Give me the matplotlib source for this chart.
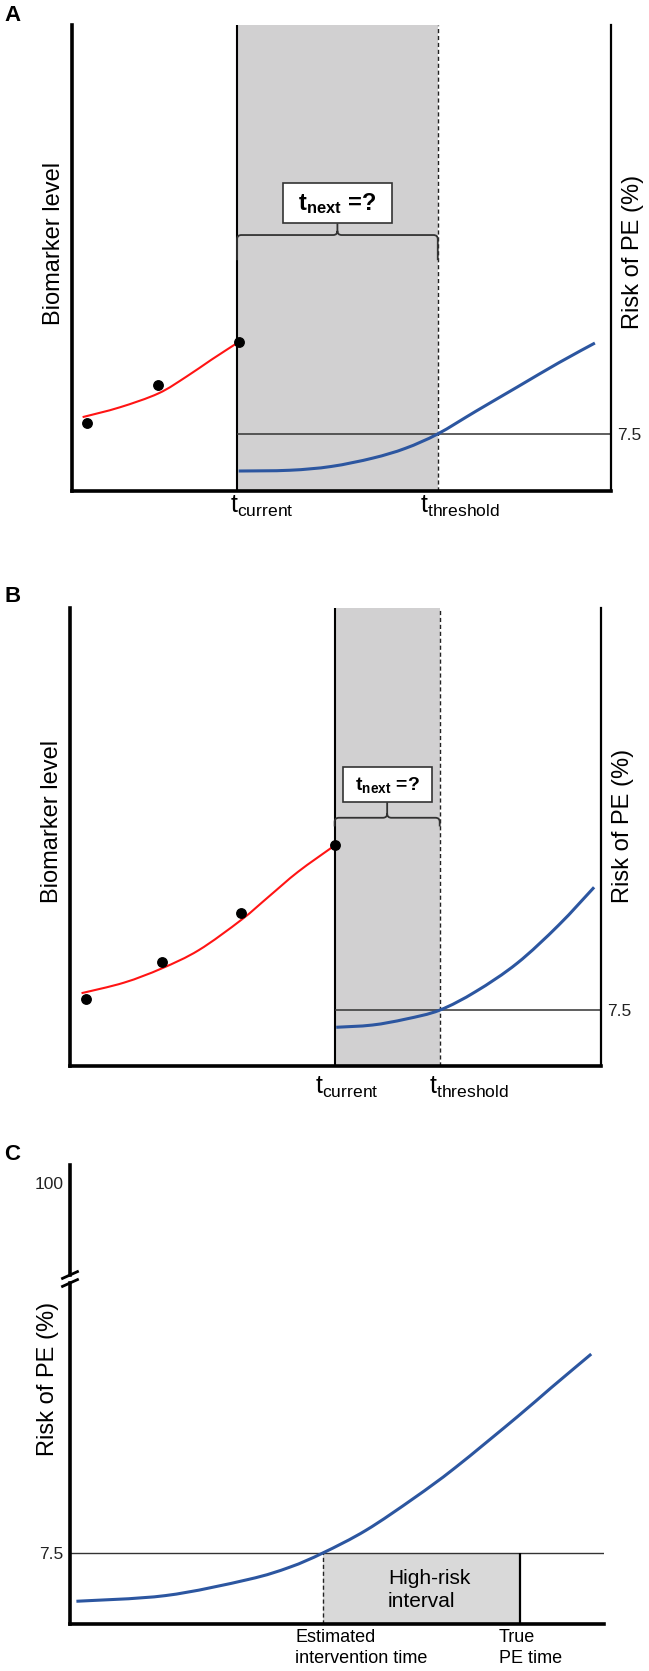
import numpy as np
import matplotlib
matplotlib.use('Agg')
import matplotlib.pyplot as plt
from matplotlib.path import Path
from matplotlib.patches import PathPatch, Rectangle

plt.rcParams['font.family'] = ['Liberation Sans', 'DejaVu Sans']
plt.rcParams['mathtext.fontset'] = 'custom'
plt.rcParams['mathtext.rm'] = 'Liberation Sans'
plt.rcParams['mathtext.it'] = 'Liberation Sans:italic'
plt.rcParams['mathtext.bf'] = 'Liberation Sans:bold'

# schematic values (time and level in % of axis, risk in %)
threshold = 7.5

# panel A
a_dots_t = [2.8, 16.0, 30.9]
a_dots_lvl = [14.6, 22.7, 32.0]
a_fit_t = [1.9, 8.8, 16.0, 21.2, 25.8, 30.6]
a_fit_lvl = [15.8, 17.9, 20.9, 24.5, 28.1, 31.7]
a_risk_t = [30.9, 40.4, 48.1, 55.8, 61.9, 67.9, 75.0, 82.7, 90.4, 97.1]
a_risk = [2.6, 2.7, 3.2, 4.3, 5.6, 7.5, 10.5, 13.7, 16.9, 19.5]
a_t_current, a_t_threshold = 30.6, 67.9

# panel B
b_dots_t = [2.9, 17.2, 32.2, 49.8]
b_dots_lvl = [14.6, 22.8, 33.5, 48.3]
b_fit_t = [2.1, 10.1, 17.2, 24.2, 32.2, 37.4, 42.9, 49.5]
b_fit_lvl = [15.9, 18.2, 21.3, 25.3, 31.9, 37.0, 42.4, 47.9]
b_risk_t = [50.1, 56.9, 63.2, 69.6, 76.4, 84.2, 92.0, 98.7]
b_risk = [5.2, 5.5, 6.3, 7.5, 10.0, 13.8, 18.9, 24.0]
b_t_current, b_t_threshold = 49.8, 69.6

# panel C
c_risk_t = [1.2, 17.9, 33.4, 41.2, 47.4, 55.5, 64.5, 72.2, 83.9, 90.1, 97.7]
c_risk = [2.4, 3.0, 4.7, 6.0, 7.5, 9.9, 13.3, 16.5, 21.9, 24.9, 28.5]
c_est, c_true = 47.4, 84.3

RED = '#ff1414'
BLUE = '#2c56a0'
SHADE = '#d1d0d1'

W, H = 649, 1671
fig = plt.figure(figsize=(W / 100, H / 100), dpi=100)


def px_axes(left, right, top, bottom):
    # axes placed by pixel box
    return fig.add_axes([left / W, 1 - bottom / H, (right - left) / W, (bottom - top) / H])


def smooth_line(ax, xs, ys, color, lw, zorder=3):
    # draw a smooth curve through the read points (catmull-rom as bezier)
    p = np.column_stack([xs, ys]).astype(float)
    ext = np.vstack([p[0], p, p[-1]])
    verts = [p[0]]
    codes = [Path.MOVETO]
    for i in range(len(p) - 1):
        p0, p1, p2, p3 = ext[i], ext[i + 1], ext[i + 2], ext[i + 3]
        verts += [p1 + (p2 - p0) / 6, p2 - (p3 - p1) / 6, p2]
        codes += [Path.CURVE4] * 3
    ax.add_patch(PathPatch(Path(verts, codes), fill=False, edgecolor=color,
                           lw=lw, zorder=zorder, capstyle='butt'))


def brace(ax, x0, x1, y_top, y_end, y_tip, rx, ry):
    xm = (x0 + x1) / 2
    verts = [(x0, y_end), (x0, y_top - ry), (x0, y_top), (x0 + rx, y_top),
             (xm - rx, y_top), (xm, y_top), (xm, y_top + ry), (xm, y_tip),
             (xm, y_top + ry), (xm, y_top), (xm + rx, y_top),
             (x1 - rx, y_top), (x1, y_top), (x1, y_top - ry), (x1, y_end)]
    codes = [Path.MOVETO, Path.LINETO, Path.CURVE3, Path.CURVE3,
             Path.LINETO, Path.CURVE3, Path.CURVE3, Path.LINETO,
             Path.MOVETO, Path.CURVE3, Path.CURVE3,
             Path.LINETO, Path.CURVE3, Path.CURVE3, Path.LINETO]
    ax.add_patch(PathPatch(Path(verts, codes), fill=False, lw=1.3,
                           edgecolor='#333333', zorder=4))


def risk_panel(ax, dots_t, dots_lvl, fit_t, fit_lvl, risk_t, risk, t_cur, t_thr,
               box_w, box_y0, box_y1, br_top, br_end, box_fs, cur_off, thr_off):
    ax.set_xlim(0, 100)
    ax.set_ylim(0, 100)
    ax.set_xticks([])
    ax.set_yticks([])
    for s in ['top', 'right']:
        ax.spines[s].set_visible(False)
    ax.spines['left'].set_linewidth(2.6)
    ax.spines['bottom'].set_linewidth(2.6)

    ax.axvspan(t_cur, t_thr, color=SHADE, lw=0, zorder=0)
    ax.axvline(t_cur, color='black', lw=1.5, zorder=2)
    ax.axvline(t_thr, color='#222222', lw=1.0, ls=(0, (3, 2)), zorder=2)

    smooth_line(ax, fit_t, fit_lvl, RED, 1.5)
    ax.plot(dots_t, dots_lvl, 'o', color='black', ms=6.8, zorder=4)

    ax2 = ax.twinx()
    ax2.set_ylim(0, 61.5)
    for s in ['top', 'left', 'bottom']:
        ax2.spines[s].set_visible(False)
    ax2.spines['right'].set_linewidth(1.6)
    ax2.set_yticks([threshold])
    ax2.set_yticklabels(['7.5'])
    ax2.tick_params(axis='y', length=0, pad=4.5, labelsize=12.5, colors='#222222')
    ax2.hlines(threshold, t_cur, 100, color='#333333', lw=1.1, zorder=2)
    smooth_line(ax2, risk_t, risk, BLUE, 2.2)

    mid = (t_cur + t_thr) / 2
    ax.add_patch(Rectangle((mid - box_w / 2, box_y0), box_w, box_y1 - box_y0,
                           facecolor='white', edgecolor='#333333', lw=1.2, zorder=5))
    ax.text(mid, (box_y0 + box_y1) / 2, r'$\mathbf{t_{next}}$ =?', ha='center',
            va='center', fontsize=box_fs, fontweight='bold', zorder=6)
    brace(ax, t_cur, t_thr, br_top, br_end, box_y0, 0.8, 0.9)

    ax.annotate(r'$\mathrm{t_{current}}$', xy=(t_cur, 0), xycoords=('data', 'axes fraction'),
                xytext=cur_off, textcoords='offset points', ha='left', va='top', fontsize=18)
    ax.annotate(r'$\mathrm{t_{threshold}}$', xy=(t_thr, 0), xycoords=('data', 'axes fraction'),
                xytext=thr_off, textcoords='offset points', ha='left', va='top', fontsize=18)
    return ax2


# ---- panel A
axA = px_axes(72.4, 610.5, 25, 490.7)
risk_panel(axA, a_dots_t, a_dots_lvl, a_fit_t, a_fit_lvl, a_risk_t, a_risk,
           a_t_current, a_t_threshold, 20.2, 57.4, 66.1, 54.9, 49.5, 17,
           (-5.4, -2.2), (-13, -2.2))
fig.text(53.8 / W, 1 - 243 / H, 'Biomarker level', rotation=90, ha='center', va='center', fontsize=17)
fig.text(633 / W, 1 - 252 / H, 'Risk of PE (%)', rotation=90, ha='center', va='center', fontsize=17)
fig.text(4 / W, 1 - 21 / H, 'A', fontsize=16, fontweight='bold', va='baseline')

# ---- panel B
axB = px_axes(70.4, 601, 608, 1066)
risk_panel(axB, b_dots_t, b_dots_lvl, b_fit_t, b_fit_lvl, b_risk_t, b_risk,
           b_t_current, b_t_threshold, 16.8, 57.6, 65.2, 54.2, 52.3, 14,
           (-14.4, -6.5), (-8, -6.5))
fig.text(51.7 / W, 1 - 821 / H, 'Biomarker level', rotation=90, ha='center', va='center', fontsize=17)
fig.text(623 / W, 1 - 826 / H, 'Risk of PE (%)', rotation=90, ha='center', va='center', fontsize=17)
fig.text(4 / W, 1 - 602 / H, 'B', fontsize=16, fontweight='bold', va='baseline')

# ---- panel C (broken y axis)
axCt = px_axes(70, 603.5, 1165, 1275)
axC = px_axes(70, 603.5, 1283, 1624)
axCt.set_xlim(0, 100)
axCt.set_ylim(91.6, 101.6)
axC.set_xlim(0, 100)
axC.set_ylim(0, 36.0)
for a in (axCt, axC):
    a.spines['top'].set_visible(False)
    a.spines['right'].set_visible(False)
    a.spines['left'].set_linewidth(2.6)
    a.set_xticks([])
    a.tick_params(axis='y', length=0, pad=4.5, labelsize=12.5, colors='#222222')
axCt.spines['bottom'].set_visible(False)
axC.spines['bottom'].set_linewidth(2.6)
axCt.set_yticks([100])
axC.set_yticks([threshold])
axC.set_yticklabels(['7.5'])

dx, dy = 7.5 / 533.5, 3.4
axCt.plot([-dx, dx], [-dy / 110, dy / 110], transform=axCt.transAxes, color='black', lw=2.0, clip_on=False)
axC.plot([-dx, dx], [1 - dy / 341, 1 + dy / 341], transform=axC.transAxes, color='black', lw=2.0, clip_on=False)

axC.fill_between([c_est, c_true], 0, threshold, color='#d9d9d9', lw=0, zorder=0)
axC.axhline(threshold, color='#333333', lw=1.0, zorder=1)
axC.vlines(c_est, 0, threshold, color='#222222', lw=1.0, linestyles=[(0, (3, 2))], zorder=2)
axC.vlines(c_true, 0, threshold, color='black', lw=1.6, zorder=2)
smooth_line(axC, c_risk_t, c_risk, BLUE, 2.2)
axC.text(59.6, 3.6, 'High-risk\ninterval', ha='left', va='center', fontsize=15, linespacing=1.25)
axC.annotate('Estimated\nintervention time', xy=(c_est, 0), xycoords=('data', 'axes fraction'),
             xytext=(-20, -3.6), textcoords='offset points', ha='left', va='top', fontsize=13,
             linespacing=1.3)
axC.annotate('True\nPE time', xy=(c_true, 0), xycoords=('data', 'axes fraction'),
             xytext=(-14.9, -3.6), textcoords='offset points', ha='left', va='top', fontsize=13,
             linespacing=1.3)
fig.text(47.6 / W, 1 - 1379 / H, 'Risk of PE (%)', rotation=90, ha='center', va='center', fontsize=17)
fig.text(4 / W, 1 - 1160 / H, 'C', fontsize=16, fontweight='bold', va='baseline')

fig.savefig('out.png', dpi=100)
